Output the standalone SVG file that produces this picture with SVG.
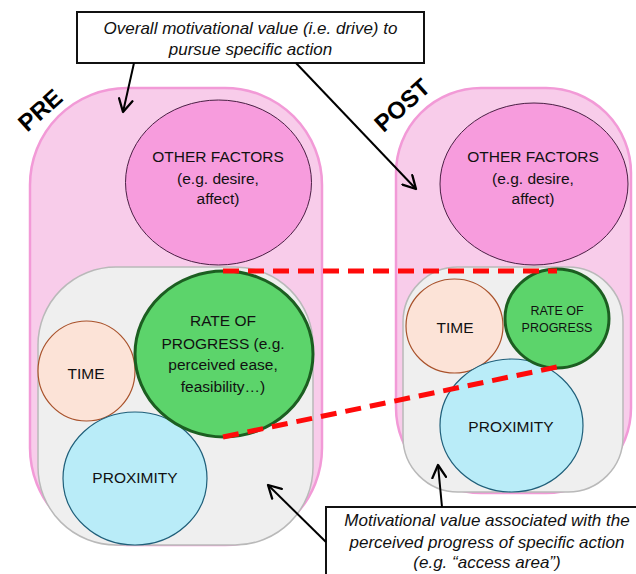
<svg xmlns="http://www.w3.org/2000/svg" width="636" height="574" viewBox="0 0 636 574">
  <defs>
    <marker id="arr" markerUnits="userSpaceOnUse" markerWidth="16" markerHeight="16" viewBox="0 0 14 14" refX="12" refY="7" orient="auto">
      <path d="M1,1 L12,7 L1,13" fill="none" stroke="#000" stroke-width="2" stroke-linecap="round" stroke-linejoin="round"/>
    </marker>
    <style>
      .outer { fill: #F8CCEA; stroke: #F29AD7; stroke-width: 2.5; }
      .inner { fill: #EFEFEF; stroke: #B9B9B9; stroke-width: 1.5; }
      .other { fill: #F79CDD; stroke: #4A1F44; stroke-width: 1; }
      .rate { fill: #5CD46B; stroke: #1C5E21; stroke-width: 3; }
      .time { fill: #FCE3D7; stroke: #A9522B; stroke-width: 1.2; }
      .prox { fill: #B9ECF8; stroke: #1F5F7A; stroke-width: 1.2; }
      .lbl { font-family: "Liberation Sans", Arial, sans-serif; font-size: 15.5px; fill: #111; text-anchor: middle; }
      .small { font-size: 12.5px; }
      .note { font-family: "Liberation Sans", Arial, sans-serif; font-size: 17px; font-style: italic; fill: #111; text-anchor: middle; }
      .title { font-family: "Liberation Sans", Arial, sans-serif; font-size: 24px; font-weight: bold; fill: #000; text-anchor: middle; }
      .box { fill: #FFFFFF; stroke: #111; stroke-width: 2; }
      .arrow { fill: none; stroke: #000; stroke-width: 2; marker-end: url(#arr); }
      .dash { fill: none; stroke: #FF0A0A; stroke-width: 5; stroke-dasharray: 16 9; }
    </style>
  </defs>

  <!-- PRE panel -->
  <g id="pre-container">
    <rect class="outer" x="30" y="88" width="292" height="457" rx="97" ry="97"/>
  </g>
  <g id="pre-access-area">
    <rect class="inner" x="38" y="267" width="275" height="278" rx="78" ry="78"/>
  </g>
  <g id="pre-other-factors">
    <ellipse class="other" cx="218.5" cy="182.5" rx="93" ry="82.5"/>
    <text class="lbl" x="218" y="162">OTHER FACTORS</text>
    <text class="lbl" x="218" y="183.5">(e.g. desire,</text>
    <text class="lbl" x="218" y="204">affect)</text>
  </g>
  <g id="pre-time">
    <ellipse class="time" cx="86.5" cy="371" rx="48.5" ry="50"/>
    <text class="lbl" x="86" y="378.5">TIME</text>
  </g>
  <g id="pre-proximity">
    <ellipse class="prox" cx="135" cy="478.5" rx="72" ry="66.5"/>
    <text class="lbl" x="135" y="482.5">PROXIMITY</text>
  </g>
  <g id="pre-rate">
    <ellipse class="rate" cx="224" cy="354" rx="89" ry="83"/>
    <text class="lbl" x="223" y="326">RATE OF</text>
    <text class="lbl" x="223" y="348.5">PROGRESS (e.g.</text>
    <text class="lbl" x="223" y="370">perceived ease,</text>
    <text class="lbl" x="223" y="391.5">feasibility…)</text>
  </g>
  <g id="pre-label">
    <text class="title" transform="translate(40,110) rotate(-42)" y="8.5">PRE</text>
  </g>

  <!-- POST panel -->
  <g id="post-container">
    <rect class="outer" x="396" y="88" width="235" height="405" rx="85" ry="85"/>
  </g>
  <g id="post-access-area">
    <rect class="inner" x="403" y="267" width="220" height="225" rx="55" ry="55"/>
  </g>
  <g id="post-other-factors">
    <ellipse class="other" cx="534" cy="184" rx="94" ry="81"/>
    <text class="lbl" x="533" y="162">OTHER FACTORS</text>
    <text class="lbl" x="533" y="183.5">(e.g. desire,</text>
    <text class="lbl" x="533" y="204">affect)</text>
  </g>
  <g id="post-time">
    <ellipse class="time" cx="454.5" cy="326" rx="48.5" ry="47"/>
    <text class="lbl" x="455" y="332.5">TIME</text>
  </g>
  <g id="post-proximity">
    <ellipse class="prox" cx="511.5" cy="425.5" rx="71.5" ry="66.5"/>
    <text class="lbl" x="511" y="431.5">PROXIMITY</text>
  </g>
  <g id="post-rate">
    <ellipse class="rate" cx="557" cy="318.5" rx="52" ry="49.5"/>
    <text class="lbl small" x="557" y="314.5">RATE OF</text>
    <text class="lbl small" x="557" y="331.5">PROGRESS</text>
  </g>
  <g id="post-label">
    <text class="title" transform="translate(402,105) rotate(-42)" y="8.5">POST</text>
  </g>

  <!-- annotation boxes -->
  <g id="note-overall">
    <rect class="box" x="77" y="12" width="347" height="51"/>
    <text class="note" x="250.5" y="34">Overall motivational value (i.e. drive) to</text>
    <text class="note" x="250.5" y="54.5">pursue specific action</text>
  </g>
  <g id="note-progress">
    <rect class="box" x="326" y="507" width="320" height="80"/>
    <text class="note" x="487" y="526">Motivational value associated with the</text>
    <text class="note" x="487" y="548">perceived progress of specific action</text>
    <text class="note" x="487" y="568">(e.g. “access area”)</text>
  </g>

  <!-- connectors -->
  <g id="connectors">
    <line class="dash" x1="223" y1="271" x2="557" y2="271"/>
    <line class="dash" x1="223" y1="437" x2="557" y2="367"/>
    <line class="arrow" x1="134" y1="63" x2="123" y2="112"/>
    <line class="arrow" x1="296" y1="63" x2="416" y2="189"/>
    <line class="arrow" x1="326" y1="542" x2="268" y2="485"/>
    <line class="arrow" x1="442" y1="507" x2="438" y2="465"/>
  </g>
</svg>
